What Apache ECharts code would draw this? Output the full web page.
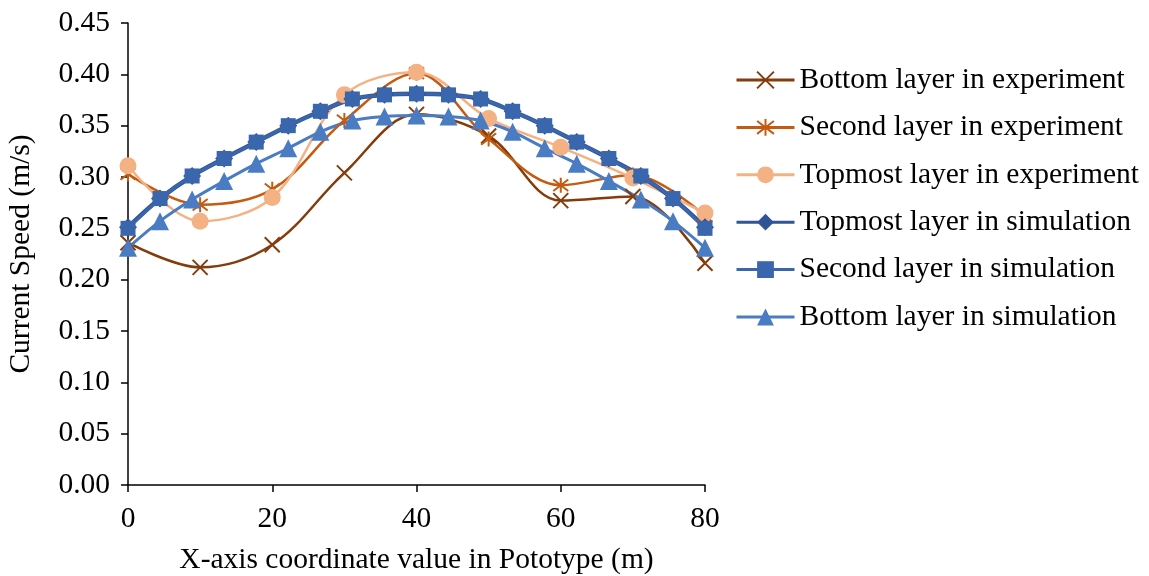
<!DOCTYPE html>
<html>
<head>
<meta charset="utf-8">
<script src="https://cdn.jsdelivr.net/npm/echarts@6/dist/echarts.min.js"></script>
<style>
html,body{margin:0;padding:0;background:#fff;}
#chart{width:1149px;height:576px;}
</style>
</head>
<body>
<div id="chart"></div>
<script>
// ---- data ----
const expX = [0, 10, 20, 30, 40, 50, 60, 70, 80];
const bottomExp = [0.236, 0.212, 0.234, 0.304, 0.361, 0.340, 0.277, 0.281, 0.216];
const secondExp = [0.303, 0.273, 0.288, 0.355, 0.401, 0.337, 0.292, 0.302, 0.262];
const topExp = [0.311, 0.257, 0.280, 0.380, 0.402, 0.357, 0.329, 0.299, 0.265];

const simX = [0, 4.44, 8.89, 13.33, 17.78, 22.22, 26.67, 31.11, 35.56, 40, 44.44, 48.89, 53.33, 57.78, 62.22, 66.67, 71.11, 75.56, 80];
const topSim = [0.251, 0.279, 0.301, 0.318, 0.334, 0.350, 0.364, 0.376, 0.380, 0.381, 0.380, 0.376, 0.364, 0.350, 0.334, 0.318, 0.301, 0.279, 0.251];
const secondSim = [0.250, 0.279, 0.301, 0.318, 0.334, 0.350, 0.364, 0.376, 0.380, 0.381, 0.380, 0.376, 0.364, 0.350, 0.334, 0.318, 0.301, 0.279, 0.250];
const bottomSim = [0.231, 0.257, 0.278, 0.296, 0.313, 0.328, 0.344, 0.355, 0.359, 0.360, 0.359, 0.355, 0.344, 0.328, 0.313, 0.296, 0.278, 0.257, 0.231];

const seriesNames = [
  'Bottom layer in experiment',
  'Second layer in experiment',
  'Topmost layer in experiment',
  'Topmost layer in simulation',
  'Second layer in simulation',
  'Bottom layer in simulation'
];
const yTicks = ['0.00','0.05','0.10','0.15','0.20','0.25','0.30','0.35','0.40','0.45'];
const xTicks = ['0','20','40','60','80'];

// ---- chart ----
const FONT = '"Liberation Serif", "DejaVu Serif", serif';
const FS = 29.5;
const pair = (xs, ys) => xs.map((x, i) => [x, ys[i]]);
const X_SYM = 'path://M0,0L10,10M10,0L0,10';
const AST_SYM = 'path://M0,0L10,10M10,0L0,10M5,-1.5L5,11.5';

function mk(name, xs, ys, color, opts) {
  return Object.assign({
    name: name,
    type: 'line',
    data: pair(xs, ys),
    smooth: 0.35,
    lineStyle: { color: color, width: 2.5 },
    itemStyle: { color: color, borderColor: color, borderWidth: 0 },
    emphasis: { disabled: true },
    z: 2
  }, opts);
}

const series = [
  mk(seriesNames[0], expX, bottomExp, '#843C0C', {
    symbol: X_SYM, symbolSize: 15,
    itemStyle: { color: '#843C0C', borderColor: '#843C0C', borderWidth: 2 }
  }),
  mk(seriesNames[1], expX, secondExp, '#C55A11', {
    symbol: AST_SYM, symbolSize: 15,
    itemStyle: { color: '#C55A11', borderColor: '#C55A11', borderWidth: 2 }
  }),
  mk(seriesNames[2], expX, topExp, '#F4B183', {
    symbol: 'circle', symbolSize: 17
  }),
  mk(seriesNames[3], simX, topSim, '#2F5597', {
    symbol: 'diamond', symbolSize: 18, lineStyle: { color: '#2F5597', width: 4.5 }
  }),
  mk(seriesNames[4], simX, secondSim, '#3A66AD', {
    symbol: 'rect', symbolSize: 15, lineStyle: { color: '#3A66AD', width: 3 }
  }),
  mk(seriesNames[5], simX, bottomSim, '#4A7CC3', {
    symbol: 'triangle', symbolSize: 18, lineStyle: { color: '#4A7CC3', width: 3 }
  })
];

const chart = echarts.init(document.getElementById('chart'), null, { renderer: 'canvas' });
chart.setOption({
  animation: false,
  backgroundColor: '#ffffff',
  textStyle: { fontFamily: FONT },
  grid: { left: 128, right: 444, top: 23, bottom: 91, containLabel: false, outerBoundsMode: 'none' },
  legend: {
    orient: 'vertical',
    left: 730,
    top: 60,
    itemWidth: 58,
    itemHeight: 21,
    itemGap: 17.4,
    data: seriesNames,
    lineStyle: { width: 3 },
    textStyle: { fontFamily: FONT, fontSize: FS, color: '#000', lineHeight: 30 },
    selectedMode: false
  },
  xAxis: {
    type: 'value',
    min: 0, max: 80, interval: 20,
    name: 'X-axis coordinate value in Pototype (m)',
    nameLocation: 'middle',
    nameGap: 60,
    nameTextStyle: { fontFamily: FONT, fontSize: FS, color: '#000' },
    axisLine: { show: true, onZero: false, lineStyle: { color: '#000', width: 1.5 } },
    axisTick: { show: true, length: 7, lineStyle: { color: '#000', width: 1.5 } },
    axisLabel: {
      fontFamily: FONT, fontSize: FS, color: '#000', margin: 19,
      formatter: v => xTicks[Math.round(v / 20)]
    },
    splitLine: { show: false }
  },
  yAxis: {
    type: 'value',
    min: 0, max: 0.45, interval: 0.05,
    name: 'Current Speed (m/s)',
    nameLocation: 'middle',
    nameGap: 92,
    nameTextStyle: { fontFamily: FONT, fontSize: FS, color: '#000' },
    axisLine: { show: true, lineStyle: { color: '#000', width: 1.5 } },
    axisTick: { show: true, length: 7, lineStyle: { color: '#000', width: 1.5 } },
    axisLabel: {
      fontFamily: FONT, fontSize: FS, color: '#000', margin: 18,
      formatter: v => yTicks[Math.round(v / 0.05)]
    },
    splitLine: { show: false }
  },
  series: series
});
</script>
</body>
</html>
